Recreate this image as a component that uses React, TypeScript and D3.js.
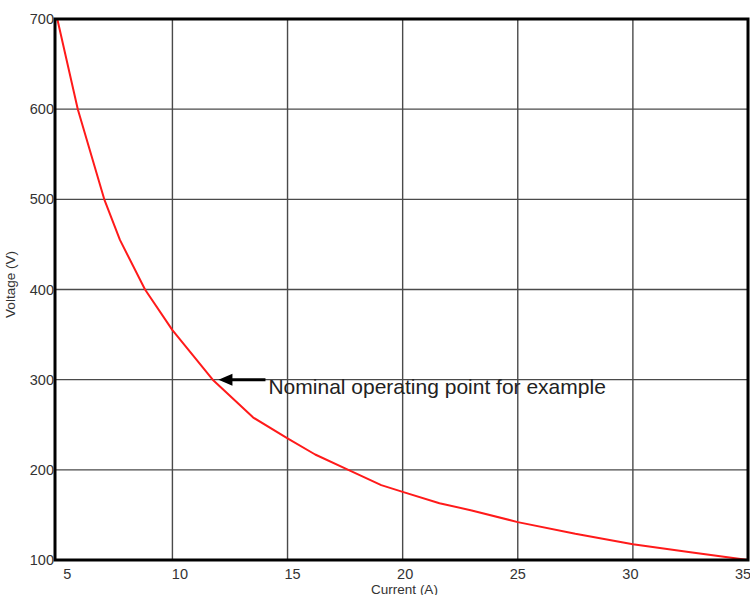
import React from "react";
import { scaleLinear, line } from "d3";

const current = [5, 5.89, 7.04, 7.72, 8.81, 10, 11.75, 13.51, 15, 16.2, 17.64, 19.07, 20, 21.6, 23, 25, 27.5, 30, 32.5, 35];
const voltage = [700, 600, 500, 455, 400, 355, 300, 258, 235, 217, 200, 183, 175.6, 163, 155, 142, 129, 117.5, 108.5, 100];

const xTicks = [5, 10, 15, 20, 25, 30, 35];
const yTicks = [100, 200, 300, 400, 500, 600, 700];

const noteText = "Nominal operating point for example";
const notePoint = [12, 300];

export default function App() {
  const margin = { top: 19, right: 2, bottom: 35, left: 55 };
  const width = 750 - margin.left - margin.right;
  const height = 595 - margin.top - margin.bottom;

  const x = scaleLinear().domain([4.9, 35]).range([0, width]);
  const y = scaleLinear().domain([100, 700]).range([height, 0]);

  const path = line<number>()
    .x((d, i) => x(current[i]))
    .y((d) => y(d))(voltage);

  const ax = x(notePoint[0]);
  const ay = y(notePoint[1]);

  return (
    <svg
      width={750}
      height={595}
      style={{ position: "absolute", left: 0, top: 0, background: "#fff" }}
      fontFamily="Liberation Sans, Arial, sans-serif"
    >
      <g transform={"translate(" + margin.left + "," + margin.top + ")"}>
        {xTicks.slice(1, -1).map((t) => (
          <line key={"gx" + t} x1={x(t)} x2={x(t)} y1={0} y2={height} stroke="#4a4a4a" strokeWidth={1.4} />
        ))}
        {yTicks.slice(1, -1).map((t) => (
          <line key={"gy" + t} x1={0} x2={width} y1={y(t)} y2={y(t)} stroke="#4a4a4a" strokeWidth={1.4} />
        ))}
        <path d={path || ""} fill="none" stroke="#ff1a1a" strokeWidth={2} strokeLinejoin="round" />
        <rect x={0} y={0} width={width} height={height} fill="none" stroke="#000" strokeWidth={3} />

        {xTicks.map((t, i) => (
          <text
            key={"xl" + t}
            x={x(t) + 10 - i * 2.5}
            y={height + 19}
            fontSize={14.5}
            fill="#333"
            textAnchor="middle"
          >
            {t}
          </text>
        ))}
        {yTicks.map((t) => (
          <text key={"yl" + t} x={-1} y={y(t) + 5} fontSize={14.5} fill="#333" textAnchor="end">
            {t}
          </text>
        ))}
        <text x={width / 2 + 3} y={height + 34} fontSize={13.5} fill="#333" textAnchor="middle">
          Current (A)
        </text>
        <text
          transform={"translate(" + -40 + "," + (height / 2 - 5) + ") rotate(-90)"}
          fontSize={13.5}
          fill="#333"
          textAnchor="middle"
        >
          Voltage (V)
        </text>

        <line x1={ax + 8} x2={ax + 47} y1={ay} y2={ay} stroke="#000" strokeWidth={3} />
        <path d={`M${ax},${ay} L${ax + 14},${ay - 6} L${ax + 14},${ay + 6} Z`} fill="#000" />
        <text x={ax + 50} y={ay + 14} fontSize={21} fill="#222">
          {noteText}
        </text>
      </g>
    </svg>
  );
}
